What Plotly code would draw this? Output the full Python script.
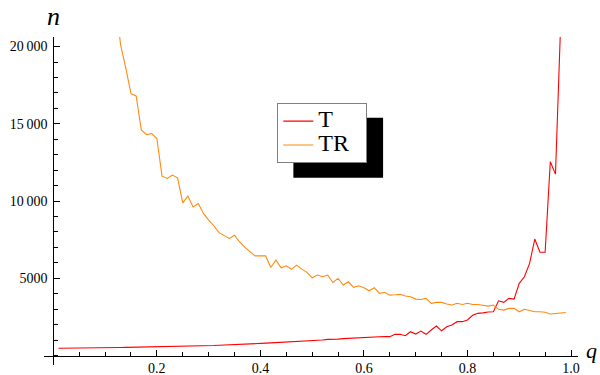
import plotly.graph_objects as go

# q grid for the T series (red)
q_T = [0.01, 0.02, 0.03, 0.04, 0.05, 0.06, 0.07, 0.08, 0.09, 0.10,
       0.11, 0.12, 0.13, 0.14, 0.15, 0.16, 0.17, 0.18, 0.19, 0.20,
       0.21, 0.22, 0.23, 0.24, 0.25, 0.26, 0.27, 0.28, 0.29, 0.30,
       0.31, 0.32, 0.33, 0.34, 0.35, 0.36, 0.37, 0.38, 0.39, 0.40,
       0.41, 0.42, 0.43, 0.44, 0.45, 0.46, 0.47, 0.48, 0.49, 0.50,
       0.51, 0.52, 0.53, 0.54, 0.55, 0.56, 0.57, 0.58, 0.59, 0.60,
       0.61, 0.62, 0.63, 0.64, 0.65, 0.66, 0.67, 0.68, 0.69, 0.70,
       0.71, 0.72, 0.73, 0.74, 0.75, 0.76, 0.77, 0.78, 0.79, 0.80,
       0.81, 0.82, 0.83, 0.84, 0.85, 0.86, 0.87, 0.88, 0.89, 0.90,
       0.91, 0.92, 0.93, 0.94, 0.95, 0.96, 0.97, 0.98]
n_T = [470, 470, 475, 480, 490, 495, 480, 475, 490, 500,
       505, 510, 515, 525, 530, 525, 535, 545, 555, 555,
       565, 575, 590, 595, 600, 590, 600, 615, 625, 635,
       645, 660, 670, 690, 705, 720, 735, 755, 775, 790,
       800, 815, 830, 850, 860, 875, 890, 905, 920, 940,
       960, 1000, 1045, 1040, 1060, 1090, 1110, 1120, 1150, 1175,
       1180, 1230, 1220, 1230, 1220, 1370, 1370, 1280, 1540, 1390,
       1580, 1370, 1650, 1910, 1600, 1860, 1970, 2190, 2190, 2300,
       2600, 2730, 2760, 2820, 2830, 3540, 3440, 3700, 3650, 4670,
       5100, 5960, 7540, 6680, 6680, 12540, 11740, 21500]

# q grid for the TR series (orange); smaller q values lie above the plot range
q_TR = [0.12, 0.13, 0.14, 0.15, 0.16, 0.17, 0.18, 0.19, 0.20,
        0.21, 0.22, 0.23, 0.24, 0.25, 0.26, 0.27, 0.28, 0.29, 0.30,
        0.31, 0.32, 0.33, 0.34, 0.35, 0.36, 0.37, 0.38, 0.39, 0.40,
        0.41, 0.42, 0.43, 0.44, 0.45, 0.46, 0.47, 0.48, 0.49, 0.50,
        0.51, 0.52, 0.53, 0.54, 0.55, 0.56, 0.57, 0.58, 0.59, 0.60,
        0.61, 0.62, 0.63, 0.64, 0.65, 0.66, 0.67, 0.68, 0.69, 0.70,
        0.71, 0.72, 0.73, 0.74, 0.75, 0.76, 0.77, 0.78, 0.79, 0.80,
        0.81, 0.82, 0.83, 0.84, 0.85, 0.86, 0.87, 0.88, 0.89, 0.90,
        0.91, 0.92, 0.93, 0.94, 0.95, 0.96, 0.97, 0.98, 0.99]
n_TR = [23000, 20100, 18600, 16950, 16800, 14600, 14300, 14370, 14050,
        11610, 11460, 11680, 11500, 9880, 10320, 9620, 9840, 9200, 8760,
        8400, 7950, 7750, 7580, 7790, 7350, 7000, 6700, 6450, 6450,
        6450, 5700, 6180, 5680, 5810, 5580, 5850, 5590, 5380, 5030,
        5210, 5100, 5210, 4730, 4990, 4560, 4770, 4410, 4510, 4390,
        4190, 4390, 4020, 4090, 3910, 3930, 3960, 3850, 3800, 3650,
        3630, 3700, 3380, 3440, 3440, 3330, 3270, 3380, 3300, 3380,
        3300, 3300, 3270, 3200, 3270, 2990, 2940, 3050, 3050, 2830,
        2990, 2900, 2830, 2830, 2800, 2690, 2720, 2790, 2780]

series_names = ["T", "TR"]
x_ticks = [0.2, 0.4, 0.6, 0.8, 1.0]
x_ticktext = ["0.2", "0.4", "0.6", "0.8", "1.0"]
y_ticks = [5000, 10000, 15000, 20000]
y_ticktext = ["5000", "10\u2009000", "15\u2009000", "20\u2009000"]

FONT = "Liberation Serif, Times New Roman, serif"
X_RANGE = [-0.018, 1.0135]
Y_RANGE = [-615, 20620]


def big(label):
    return "<span style='font-size:24px'>" + label + "</span>\u00a0\u00a0\u00a0"


fig = go.Figure()
fig.add_trace(go.Scatter(x=q_T, y=n_T, mode="lines", name=big(series_names[0]),
                         line=dict(color="#FF0000", width=1.1)))
fig.add_trace(go.Scatter(x=q_TR, y=n_TR, mode="lines", name=big(series_names[1]),
                         line=dict(color="#FF8A10", width=1.1)))

xpos = (0 - Y_RANGE[0]) / (Y_RANGE[1] - Y_RANGE[0])
ypos = (0 - X_RANGE[0]) / (X_RANGE[1] - X_RANGE[0])

fig.update_layout(
    width=600, height=375,
    margin=dict(l=44, r=22, t=37, b=10, autoexpand=False),
    paper_bgcolor="white", plot_bgcolor="white",
    font=dict(family=FONT, color="black", size=14),
    showlegend=True,
    legend=dict(x=0.437, y=0.798, xanchor="left", yanchor="top",
                bgcolor="white", bordercolor="#808080", borderwidth=1,
                font=dict(family=FONT, size=16, color="black"),
                itemwidth=30, tracegroupgap=0),
    xaxis=dict(range=X_RANGE, anchor="free", position=xpos, automargin=False,
               showgrid=False, zeroline=False,
               showline=True, linecolor="black", linewidth=1,
               tickmode="array", tickvals=x_ticks, ticktext=x_ticktext,
               ticks="inside", ticklen=6, tickcolor="black", tickwidth=1,
               tickfont=dict(family=FONT, size=14, color="black"),
               minor=dict(ticks="inside", ticklen=4, tickcolor="black",
                          tickmode="linear", tick0=0, dtick=0.05)),
    yaxis=dict(range=Y_RANGE, anchor="free", position=ypos, automargin=False,
               showgrid=False, zeroline=False,
               showline=True, linecolor="black", linewidth=1,
               tickmode="array", tickvals=y_ticks, ticktext=y_ticktext,
               ticks="inside", ticklen=6, tickcolor="black", tickwidth=1,
               ticklabelstandoff=3,
               tickfont=dict(family=FONT, size=14, color="black"),
               minor=dict(ticks="inside", ticklen=4, tickcolor="black",
                          tickmode="linear", tick0=0, dtick=1000)),
    shapes=[dict(type="rect", xref="paper", yref="paper",
                 x0=0.467, x1=0.635, y0=0.571, y1=0.754,
                 fillcolor="black", line=dict(width=0), layer="below")],
    annotations=[
        dict(text="<i>n</i>", xref="paper", yref="paper", x=0.0187, y=1.064,
             xanchor="center", yanchor="middle", showarrow=False,
             font=dict(family=FONT, size=26, color="black")),
        dict(text="<i>q</i>", xref="paper", yref="paper", x=1.026, y=0.0457,
             xanchor="center", yanchor="middle", showarrow=False,
             font=dict(family=FONT, size=22, color="black")),
    ],
)

fig.write_html("out.html",
               config={"displayModeBar": False},
               post_script="document.body.style.margin='0px';"
                           "document.body.style.overflow='hidden';")
